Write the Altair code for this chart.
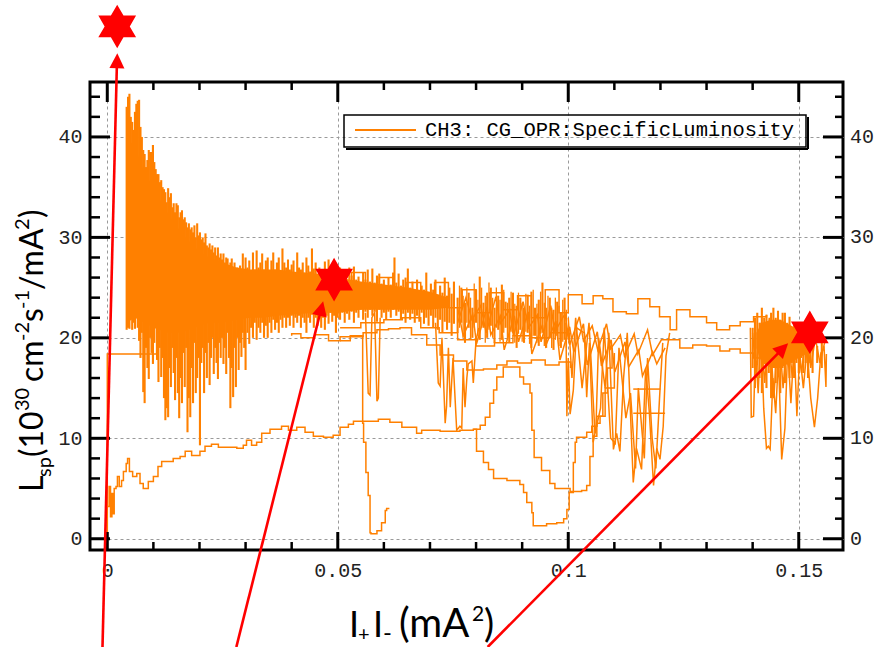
import altair as alt
import pandas as pd

# ---------------- layout constants ----------------
W, H = 753, 468
X_DOM = [-0.00375, 0.1596]
Y_DOM = [-1.12, 45.47]
ORANGE = "#ff8000"
RED = "#ff0000"

# ---------------- data ----------------
x_ticks_major = [0, 0.05, 0.1, 0.15]
x_ticks_minor = [0.01, 0.02, 0.03, 0.04, 0.06, 0.07, 0.08, 0.09, 0.11, 0.12, 0.13, 0.14]
y_ticks_major = [0, 10, 20, 30, 40]
y_ticks_minor = [2, 4, 6, 8, 12, 14, 16, 18, 22, 24, 26, 28, 32, 34, 36, 38, 42, 44]

# fill starting at the origin (low curve)
a_x = [0.0, 0.0, 0.0004, 0.0007, 0.001, 0.0013, 0.0015, 0.0019, 0.0022, 0.0026, 0.0031, 0.0035,
       0.0041, 0.0044, 0.0048, 0.0055, 0.0064, 0.0071, 0.0078, 0.0089, 0.0100, 0.0110, 0.0118,
       0.0132, 0.0143, 0.0158, 0.0169, 0.0183, 0.0201, 0.0212, 0.0226, 0.0241, 0.0259, 0.0281,
       0.0295, 0.0302, 0.0313, 0.0324, 0.0335, 0.0353, 0.0378, 0.0393, 0.0411, 0.0429, 0.0447,
       0.0469, 0.0490, 0.0505, 0.0523, 0.0534, 0.0563, 0.0588, 0.0613, 0.0639, 0.0671, 0.0682,
       0.0722, 0.0765, 0.0794, 0.0809, 0.0820, 0.0830, 0.0838, 0.0845, 0.0859, 0.0895, 0.0903,
       0.0917, 0.0921, 0.0926, 0.0942, 0.0960, 0.0971, 0.1004, 0.1029, 0.1040, 0.1047, 0.1054,
       0.1062, 0.1069, 0.1080, 0.1100]
a_y = [0.0, 3.2, 5.2, 2.2, 4.5, 2.5, 5.0, 5.2, 6.2, 5.2, 5.8, 6.7,
       7.5, 8.0, 6.7, 6.2, 6.5, 5.5, 5.0, 5.7, 6.2, 7.2, 7.7,
       7.7, 8.0, 8.2, 8.7, 8.3, 8.7, 9.2, 9.4, 9.1, 9.1, 9.0,
       9.3, 9.8, 9.3, 9.6, 10.5, 10.9, 11.2, 10.8, 11.1, 10.6, 10.2,
       10.1, 10.3, 11.1, 11.4, 11.7, 11.7, 11.9, 11.6, 11.1, 10.5, 10.8,
       10.7, 10.8, 10.9, 11.3, 12.1, 13.5, 14.8, 16.1, 17.1, 16.1, 15.4,
       14.5, 10.8, 8.1, 6.8, 5.5, 5.0, 4.7, 4.8, 5.3, 8.2, 10.2,
       11.5, 12.2, 15.0, 18.5]

# fill dipping to ~1 near 0.09
b_x = [0.0794, 0.0798, 0.0801, 0.0816, 0.0827, 0.0838, 0.0867, 0.0895, 0.0903, 0.0910, 0.0921,
       0.0924, 0.0953, 0.0975, 0.0990, 0.0997, 0.1002, 0.1011, 0.1015, 0.1018, 0.1040, 0.1051,
       0.1062, 0.1075, 0.1085, 0.1095]
b_y = [10.9, 10.9, 8.7, 7.6, 6.9, 6.0, 5.8, 5.4, 4.6, 3.6, 2.6,
       1.3, 1.5, 1.6, 2.0, 2.9, 4.6, 7.6, 9.6, 10.1, 10.6, 11.2,
       12.2, 14.5, 17.0, 19.0]

# short fill with the deep drop near 0.057
c_x = [0.0612, 0.0606, 0.0603, 0.0595, 0.0585, 0.0572, 0.0570, 0.0566, 0.0561, 0.0556, 0.0554,
       0.0527, 0.0505, 0.0480, 0.0450, 0.0420, 0.0400]
c_y = [3.0, 2.8, 1.6, 0.8, 0.5, 0.6, 4.3, 6.6, 9.6, 11.5, 20.2,
       20.1, 19.7, 20.3, 20.0, 20.4, 20.2]

# smooth lines around 20 -> 17
d_x = [0.0505, 0.0527, 0.0555, 0.0585, 0.0610, 0.0635, 0.0660, 0.0693, 0.0722, 0.0751, 0.0780,
       0.0816, 0.0845, 0.0867, 0.0890, 0.0920, 0.0950, 0.0980, 0.1005]
d_y = [19.7, 20.1, 20.5, 20.8, 20.9, 21.0, 20.3, 19.3, 18.3, 17.7, 16.8,
       16.9, 17.3, 17.7, 17.5, 17.8, 17.3, 17.6, 17.0]
e_x = [0.0505, 0.0550, 0.0600, 0.0640, 0.0680, 0.0720, 0.0760, 0.0800, 0.0840, 0.0880, 0.0920,
       0.0960, 0.1000]
e_y = [21.0, 21.5, 21.8, 22.0, 21.0, 20.5, 19.8, 19.2, 19.5, 20.2, 20.0, 20.5, 19.8]

# vertical start at zero current and flat plateau
f_x = [0.0, 0.0, 0.0107, 0.0107]
f_y = [0.3, 18.4, 18.4, 21.0]

# upper line of the middle region
m1_x = [0.0500, 0.0530, 0.0560, 0.0590, 0.0620, 0.0650, 0.0680, 0.0710, 0.0740, 0.0770, 0.0800,
        0.0830, 0.0860, 0.0890, 0.0920, 0.0950, 0.0980, 0.1000, 0.1030, 0.1054, 0.1075, 0.1097,
        0.1126, 0.1151, 0.1177, 0.1198, 0.1221, 0.1235, 0.1264, 0.1300, 0.1322, 0.1350, 0.1373,
        0.1402, 0.1430]
m1_y = [25.0, 26.5, 24.0, 26.0, 23.5, 25.5, 23.5, 25.5, 23.0, 24.8, 22.5,
        24.5, 22.8, 24.2, 22.0, 24.8, 22.5, 24.3, 23.4, 24.2, 23.9, 22.6,
        22.4, 23.9, 23.1, 22.1, 20.8, 22.8, 22.1, 21.5, 20.8, 21.2, 21.6,
        22.1, 22.3]
l_x = [0.1217, 0.1242, 0.1270, 0.1300, 0.1329, 0.1350, 0.1373, 0.1402, 0.1420]
l_y = [19.8, 19.0, 19.3, 19.2, 18.7, 18.9, 18.5, 18.0, 18.3]
h1_x = [0.1141, 0.1200]
h1_y = [14.9, 14.9]
h2_x = [0.1141, 0.1210]
h2_y = [12.5, 12.5]

# noisy lines and V-shaped dips (straight segments)
m5_x = [0.0760, 0.0778, 0.0791, 0.0810, 0.0822, 0.0843, 0.0852, 0.0873, 0.0881, 0.0902, 0.0914,
        0.0933, 0.0941, 0.0962, 0.0971, 0.0993, 0.1003, 0.1024, 0.1033, 0.1052, 0.1064, 0.1083,
        0.1092, 0.1113, 0.1122, 0.1143, 0.1151, 0.1172, 0.1183, 0.1202, 0.1217]
m5_y = [21.5, 24.0, 21.8, 23.2, 20.5, 24.1, 21.4, 22.8, 20.2, 23.6, 21.0,
        22.3, 19.6, 23.2, 20.6, 22.4, 19.3, 22.1, 19.7, 21.2, 18.8, 21.4,
        18.9, 20.3, 18.2, 20.4, 18.4, 20.8, 18.3, 19.8, 19.8]
m6_x = [0.0760, 0.0772, 0.0793, 0.0801, 0.0824, 0.0832, 0.0853, 0.0861, 0.0883, 0.0892, 0.0913,
        0.0921, 0.0944, 0.0951, 0.0973, 0.0982, 0.1003, 0.1012, 0.1033, 0.1041, 0.1063, 0.1072,
        0.1093, 0.1101, 0.1123, 0.1131, 0.1153, 0.1161, 0.1183, 0.1192, 0.1210]
m6_y = [23.0, 20.2, 22.3, 19.4, 23.1, 20.3, 22.2, 18.8, 22.2, 19.6, 22.6,
        18.4, 21.3, 19.2, 21.7, 17.8, 21.1, 18.6, 21.4, 17.3, 20.6, 17.2,
        19.8, 16.6, 19.6, 17.1, 18.8, 16.2, 18.6, 17.4, 19.0]
v1_x = [0.0995, 0.0997, 0.1000, 0.1004, 0.1011, 0.1018, 0.1035, 0.1040, 0.1046, 0.1054, 0.1060,
        0.1066, 0.1080, 0.1088, 0.1098, 0.1105, 0.1112, 0.1120, 0.1128, 0.1141, 0.1148, 0.1159,
        0.1168, 0.1176, 0.1185, 0.1192, 0.1199, 0.1206, 0.1212, 0.1220]
v1_y = [21.5, 12.2, 18.0, 12.4, 14.8, 21.0, 20.5, 14.1, 19.5, 9.6, 11.0,
        20.0, 15.0, 20.5, 8.9, 10.5, 8.7, 16.0, 20.5, 5.6, 9.0, 6.9,
        17.0, 12.5, 5.3, 9.0, 7.9, 11.2, 18.2, 20.5]
v2_x = [0.1000, 0.1008, 0.1016, 0.1030, 0.1045, 0.1058, 0.1070, 0.1078, 0.1092, 0.1102, 0.1110,
        0.1125, 0.1135, 0.1146, 0.1152, 0.1165, 0.1172, 0.1182, 0.1190, 0.1198, 0.1205]
v2_y = [22.0, 16.0, 22.0, 15.0, 21.5, 10.5, 13.0, 21.0, 10.0, 9.5, 19.0,
        12.0, 14.5, 7.0, 15.0, 8.0, 18.0, 10.0, 7.0, 14.0, 19.5]
v3_x = [0.0560, 0.0566, 0.0570, 0.0574, 0.0580, 0.0585, 0.0588, 0.0592]
v3_y = [22.5, 14.5, 14.3, 22.0, 22.5, 13.7, 14.0, 22.0]
v4_x = [0.0712, 0.0718, 0.0722, 0.0726, 0.0733, 0.0736, 0.0740, 0.0744, 0.0750, 0.0758, 0.0765,
        0.0769, 0.0772, 0.0776, 0.0780, 0.0783, 0.0791, 0.0794, 0.0800, 0.0806]
v4_y = [21.5, 15.5, 15.2, 20.0, 11.5, 13.2, 19.0, 13.1, 18.0, 10.8, 11.2,
        11.0, 17.0, 13.1, 16.0, 17.4, 17.7, 15.5, 19.8, 21.0]
r1_x = [0.1395, 0.1397, 0.1402, 0.1406, 0.1412, 0.1418, 0.1424, 0.1430, 0.1434, 0.1438, 0.1444,
        0.1450, 0.1456, 0.1463, 0.1470, 0.1476, 0.1483, 0.1490, 0.1496, 0.1502, 0.1510, 0.1518,
        0.1526, 0.1534, 0.1541, 0.1548, 0.1555, 0.1559, 0.1560]
r1_y = [21.0, 12.1, 12.2, 19.0, 14.5, 21.0, 13.0, 9.0, 9.2, 8.9, 16.0,
        12.5, 18.0, 7.9, 11.0, 19.0, 13.5, 19.5, 12.2, 18.5, 15.0, 19.0,
        14.0, 11.1, 14.0, 18.5, 19.0, 15.1, 18.4]
r2_x = [0.1400, 0.1408, 0.1416, 0.1426, 0.1436, 0.1446, 0.1456, 0.1466, 0.1476, 0.1486, 0.1496,
        0.1506, 0.1516, 0.1526, 0.1536, 0.1546, 0.1556]
r2_y = [20.5, 16.0, 21.5, 15.5, 22.0, 14.0, 21.5, 15.0, 21.0, 16.0, 20.0,
        16.5, 20.5, 17.0, 20.0, 17.5, 19.5]

# solid cores of the dense band and of the cluster at the right
core_x = [0.0042, 0.0060, 0.0080, 0.0100, 0.0130, 0.0160, 0.0190, 0.0220, 0.0250, 0.0280,
          0.0310, 0.0340, 0.0370, 0.0400, 0.0450, 0.0500, 0.0550, 0.0600, 0.0650, 0.0700, 0.0740]
core_lo = [21.5, 22.0, 21.5, 21.0, 20.5, 20.5, 21.0, 21.5, 21.5, 21.8,
           22.0, 22.0, 22.2, 22.3, 22.5, 22.5, 22.8, 22.8, 22.8, 22.8, 23.0]
core_hi = [40.0, 39.0, 36.5, 35.0, 32.5, 30.5, 29.0, 28.0, 27.5, 27.0,
           26.8, 26.8, 26.8, 26.6, 26.4, 26.0, 25.6, 25.3, 25.0, 24.6, 24.0]
rcore_x = [0.1408, 0.1420, 0.1440, 0.1460, 0.1480, 0.1500, 0.1520, 0.1530]
rcore_lo = [19.0, 17.5, 17.0, 17.0, 17.5, 18.0, 18.5, 19.0]
rcore_hi = [20.5, 21.5, 21.8, 21.8, 21.3, 20.8, 20.3, 20.0]

# vertical excursions of the noisy fills: (current, low end, high end)
strokes = [
    (0.0042, 20.8, 43.0), (0.0045, 21.0, 44.0), (0.0048, 20.9, 44.3), (0.0051, 22.5, 42.0),
    (0.0054, 20.8, 41.5), (0.0057, 21.5, 40.7), (0.0060, 20.9, 42.5), (0.0063, 23.0, 43.3),
    (0.0066, 21.0, 43.6), (0.0069, 19.7, 43.7), (0.0072, 18.0, 41.0), (0.0075, 20.5, 40.0),
    (0.0078, 14.6, 38.7), (0.0081, 13.5, 38.3), (0.0084, 19.0, 37.0), (0.0087, 17.0, 37.7),
    (0.0090, 15.9, 38.7), (0.0093, 20.0, 38.5), (0.0096, 18.5, 38.5), (0.0099, 17.4, 39.2),
    (0.0102, 19.5, 37.5), (0.0105, 21.0, 36.8), (0.0108, 17.8, 36.3), (0.0111, 15.6, 36.3),
    (0.0114, 19.0, 35.5), (0.0117, 16.1, 35.7), (0.0120, 18.0, 35.0), (0.0123, 14.0, 34.8),
    (0.0126, 11.8, 34.5), (0.0129, 13.0, 33.5), (0.0132, 12.1, 34.9), (0.0135, 17.0, 34.0),
    (0.0138, 15.1, 34.4), (0.0141, 19.0, 33.0), (0.0144, 16.5, 33.4), (0.0147, 13.8, 32.5),
    (0.0150, 18.0, 33.4), (0.0153, 14.5, 33.2), (0.0156, 12.0, 32.0), (0.0159, 16.0, 32.5),
    (0.0162, 13.5, 32.7), (0.0165, 18.5, 31.8), (0.0168, 15.1, 32.0), (0.0171, 19.0, 31.5),
    (0.0174, 10.6, 31.0), (0.0177, 14.0, 31.4), (0.0180, 12.1, 30.8), (0.0183, 17.0, 31.0),
    (0.0186, 13.5, 30.5), (0.0189, 19.5, 31.2), (0.0192, 14.5, 30.0), (0.0195, 16.0, 31.4),
    (0.0198, 18.0, 30.2), (0.0201, 9.3, 30.5), (0.0204, 17.5, 29.8), (0.0207, 19.0, 30.0),
    (0.0210, 14.5, 29.5), (0.0213, 18.5, 30.4), (0.0216, 16.0, 29.2), (0.0219, 19.5, 29.0),
    (0.0222, 15.3, 29.4), (0.0225, 18.0, 28.8), (0.0228, 20.0, 29.2), (0.0231, 16.4, 28.5),
    (0.0234, 19.0, 29.0), (0.0237, 17.5, 28.2), (0.0240, 15.9, 29.0), (0.0243, 19.5, 28.0),
    (0.0246, 18.0, 28.4), (0.0249, 20.0, 27.8), (0.0252, 17.4, 28.4), (0.0255, 19.0, 27.5),
    (0.0258, 16.4, 28.0), (0.0261, 20.5, 27.9), (0.0264, 18.0, 27.2), (0.0267, 13.0, 27.5),
    (0.0270, 17.0, 27.9), (0.0273, 14.1, 27.0), (0.0276, 19.0, 27.5), (0.0279, 15.1, 26.8),
    (0.0282, 20.0, 27.0), (0.0285, 16.8, 26.6), (0.0288, 19.5, 27.2), (0.0291, 18.1, 26.5),
    (0.0294, 20.5, 28.4), (0.0297, 19.0, 26.8), (0.0300, 16.8, 28.0), (0.0304, 20.5, 27.0),
    (0.0308, 19.4, 27.7), (0.0312, 21.0, 26.5), (0.0316, 20.0, 28.5), (0.0320, 21.5, 26.8),
    (0.0324, 19.8, 28.7), (0.0328, 21.0, 27.0), (0.0332, 20.5, 27.5), (0.0336, 21.5, 28.4),
    (0.0340, 20.0, 26.8), (0.0344, 21.2, 27.7), (0.0348, 20.0, 28.0), (0.0352, 21.5, 26.5),
    (0.0356, 20.5, 27.7), (0.0360, 21.8, 28.5), (0.0364, 20.8, 26.8), (0.0368, 21.5, 27.5),
    (0.0372, 20.5, 28.0), (0.0376, 21.8, 26.6), (0.0380, 21.0, 28.9), (0.0384, 22.0, 27.5),
    (0.0388, 21.0, 27.0), (0.0392, 22.0, 27.8), (0.0396, 21.2, 26.8), (0.0400, 22.2, 27.3),
    (0.0404, 21.0, 27.7), (0.0408, 22.0, 26.5), (0.0412, 21.5, 28.5), (0.0416, 22.2, 27.0),
    (0.0420, 21.0, 26.8), (0.0424, 22.0, 27.5), (0.0428, 21.5, 26.5), (0.0432, 20.5, 28.0),
    (0.0436, 22.0, 27.2), (0.0440, 21.5, 26.6), (0.0444, 22.3, 28.9), (0.0448, 21.0, 26.9),
    (0.0452, 22.0, 27.5), (0.0456, 21.2, 26.4), (0.0460, 22.4, 27.0), (0.0464, 21.0, 26.8),
    (0.0468, 22.0, 26.2), (0.0472, 20.8, 27.6), (0.0476, 22.2, 26.5), (0.0480, 21.4, 27.8),
    (0.0484, 22.5, 26.4), (0.0488, 21.6, 26.8), (0.0492, 22.2, 26.0), (0.0496, 20.5, 27.3),
    (0.0500, 22.0, 26.5), (0.0505, 21.8, 27.0), (0.0510, 22.5, 26.0), (0.0515, 21.5, 26.5),
    (0.0520, 22.4, 25.8), (0.0525, 21.8, 27.0), (0.0530, 22.6, 26.2), (0.0535, 21.5, 27.1),
    (0.0540, 22.5, 25.8), (0.0545, 22.0, 26.1), (0.0550, 22.8, 25.5), (0.0555, 21.8, 26.5),
    (0.0560, 22.6, 25.8), (0.0565, 22.0, 26.8), (0.0570, 22.8, 25.6), (0.0575, 22.2, 26.9),
    (0.0580, 22.6, 25.5), (0.0585, 21.6, 26.2), (0.0590, 22.8, 26.4), (0.0595, 22.0, 25.4),
    (0.0600, 22.5, 25.8), (0.0605, 21.8, 25.2), (0.0610, 22.6, 26.0), (0.0615, 22.0, 25.3),
    (0.0620, 22.8, 26.5), (0.0623, 23.0, 28.0), (0.0627, 22.2, 25.5), (0.0632, 22.6, 26.4),
    (0.0637, 21.8, 25.2), (0.0642, 22.4, 25.8), (0.0647, 21.5, 26.0), (0.0652, 22.5, 26.9),
    (0.0657, 21.8, 25.0), (0.0662, 22.4, 25.6), (0.0667, 21.5, 24.8), (0.0672, 22.2, 25.8),
    (0.0677, 21.6, 24.6), (0.0682, 22.5, 25.2), (0.0687, 21.4, 24.8), (0.0692, 22.0, 26.5),
    (0.0697, 21.2, 24.5), (0.0702, 22.2, 25.4), (0.0707, 21.0, 24.8), (0.0712, 22.0, 25.8),
    (0.0717, 20.8, 24.3), (0.0722, 21.8, 25.2), (0.0727, 20.5, 24.5), (0.0732, 21.6, 26.0),
    (0.0737, 20.8, 24.2), (0.0742, 21.5, 25.0), (0.0747, 20.2, 24.4), (0.0752, 21.4, 25.6),
    (0.0760, 20.5, 24.0), (0.0768, 21.5, 25.0), (0.0776, 19.5, 23.5), (0.0784, 21.0, 24.5),
    (0.0792, 20.0, 23.0), (0.0800, 21.5, 24.8), (0.0808, 19.8, 26.1), (0.0816, 21.0, 23.5),
    (0.0824, 20.0, 24.5), (0.0832, 21.2, 25.0), (0.0840, 19.5, 23.0), (0.0848, 20.8, 24.2),
    (0.0856, 19.8, 25.3), (0.0864, 21.0, 23.6), (0.0872, 19.5, 24.0), (0.0880, 20.5, 24.5),
    (0.0888, 19.0, 23.2), (0.0896, 20.8, 24.0), (0.0904, 19.5, 23.0), (0.0912, 20.5, 24.3),
    (0.0920, 19.0, 24.6), (0.0928, 20.2, 23.0), (0.0936, 19.2, 23.8), (0.0944, 20.5, 25.5),
    (0.0952, 19.0, 23.0), (0.0960, 20.0, 24.0), (0.0968, 18.8, 22.8), (0.0976, 20.2, 23.6),
    (0.0984, 19.0, 22.5), (0.0992, 19.8, 24.0),
    (0.1400, 17.0, 21.0), (0.1405, 15.0, 22.0), (0.1410, 18.0, 22.5), (0.1415, 16.0, 21.5),
    (0.1420, 14.5, 23.0), (0.1425, 17.5, 22.0), (0.1430, 15.0, 22.3), (0.1435, 16.5, 21.5),
    (0.1440, 14.0, 22.5), (0.1445, 17.0, 23.0), (0.1450, 15.5, 22.0), (0.1455, 16.5, 22.7),
    (0.1460, 14.5, 21.8), (0.1465, 17.0, 22.5), (0.1470, 15.5, 22.5), (0.1475, 17.5, 21.5),
    (0.1480, 16.0, 22.1), (0.1485, 17.5, 21.0), (0.1490, 16.0, 21.5), (0.1495, 17.5, 20.5),
    (0.1500, 16.5, 21.0), (0.1505, 18.0, 20.5), (0.1510, 16.5, 20.8), (0.1515, 17.5, 20.0),
    (0.1520, 16.0, 20.5), (0.1525, 17.5, 19.8), (0.1530, 16.5, 19.5), (0.1540, 17.5, 19.2),
    (0.1550, 17.0, 19.5),
]
# thinner excursions of the looser tangle between 0.076 and 0.1
thin_strokes = [
    (0.0764, 21.0, 25.2), (0.0772, 20.0, 24.2), (0.0780, 21.5, 25.0), (0.0788, 19.8, 24.0),
    (0.0796, 21.0, 25.4), (0.0804, 20.2, 23.8), (0.0812, 21.2, 25.0), (0.0820, 19.5, 24.2),
    (0.0828, 20.8, 25.5), (0.0836, 20.0, 24.0), (0.0844, 21.0, 25.0), (0.0852, 19.6, 23.8),
    (0.0860, 20.5, 24.8), (0.0868, 19.8, 23.5), (0.0876, 20.6, 24.6), (0.0884, 19.5, 23.4),
    (0.0892, 20.4, 24.5), (0.0900, 19.6, 23.5), (0.0908, 20.6, 24.4), (0.0916, 19.4, 23.2),
    (0.0924, 20.2, 24.8), (0.0932, 19.5, 23.4), (0.0940, 20.4, 24.6), (0.0948, 19.2, 23.5),
    (0.0956, 20.0, 24.2), (0.0964, 19.0, 23.0), (0.0972, 19.8, 24.0), (0.0980, 19.2, 23.2),
    (0.0988, 19.6, 23.8), (0.0996, 19.0, 22.8),
]

# annotation stars and arrows
star_x = [0.00215, 0.0492, 0.1524]
star_y = [51.0, 25.8, 20.55]
arrow_id = [1, 1, 2, 2, 3, 3]
arrow_x = [-0.00104, 0.00208, 0.02799, 0.04632, 0.08252, 0.1462]
arrow_y = [-10.78, 47.13, -10.78, 22.72, -10.78, 18.77]
head_x = [0.00217, 0.04683, 0.1477]
head_y = [48.33, 23.65, 19.47]
head_angle = [1.4, 14.1, 44.7]

LEGEND_TEXT = "CH3: CG_OPR:SpecificLuminosity"

# ---------------- build tables ----------------
def tr(name, xs, ys):
    return pd.DataFrame({"trace": name, "x": xs, "y": ys, "i": list(range(len(xs)))})

step_df = pd.concat([tr("A", a_x, a_y), tr("B", b_x, b_y), tr("C", c_x, c_y), tr("D", d_x, d_y),
                     tr("E", e_x, e_y), tr("F", f_x, f_y), tr("M1", m1_x, m1_y), tr("L", l_x, l_y),
                     tr("H1", h1_x, h1_y), tr("H2", h2_x, h2_y)])
lin_df = pd.concat([tr("M5", m5_x, m5_y), tr("M6", m6_x, m6_y), tr("V1", v1_x, v1_y),
                    tr("V2", v2_x, v2_y), tr("V3", v3_x, v3_y), tr("V4", v4_x, v4_y),
                    tr("R1", r1_x, r1_y), tr("R2", r2_x, r2_y)])
core_df = pd.DataFrame({"x": core_x, "lo": core_lo, "hi": core_hi})
rcore_df = pd.DataFrame({"x": rcore_x, "lo": rcore_lo, "hi": rcore_hi})
stroke_df = pd.DataFrame(strokes, columns=["x", "lo", "hi"])
thin_df = pd.DataFrame(thin_strokes, columns=["x", "lo", "hi"])
star_df = pd.DataFrame({"x": star_x, "y": star_y})
arrow_df = pd.DataFrame({"a": arrow_id, "x": arrow_x, "y": arrow_y})
head_df = pd.DataFrame({"x": head_x, "y": head_y, "ang": head_angle})
one = pd.DataFrame({"k": [0]})

xsc = alt.Scale(domain=X_DOM, nice=False, zero=False)
ysc = alt.Scale(domain=Y_DOM, nice=False, zero=False)

x_axis = alt.Axis(values=x_ticks_major, grid=True, gridDash=[3, 3], gridColor="#9a9a9a", gridWidth=1,
                  ticks=False, tickSize=0, domain=False, labelFont="Liberation Mono", labelFontSize=20,
                  labelColor="#222222", labelPadding=10, labelFlush=False, labelOverlap=False,
                  labelExpr="'' + datum.value", title=None)
y_axis = alt.Axis(values=y_ticks_major, grid=True, gridDash=[3, 3], gridColor="#9a9a9a", gridWidth=1,
                  ticks=False, tickSize=0, domain=False, labelFont="Liberation Mono", labelFontSize=20,
                  labelColor="#222222", labelPadding=8, labelFlush=False, labelOverlap=False,
                  labelExpr="'' + datum.value", title=None)

def X(f="x"):
    return alt.X(f"{f}:Q", scale=xsc, axis=x_axis)

def Y(f="y"):
    return alt.Y(f"{f}:Q", scale=ysc, axis=y_axis)

core = alt.Chart(core_df).mark_area(color=ORANGE, opacity=1).encode(x=X(), y=Y("lo"), y2="hi:Q")
rcore = alt.Chart(rcore_df).mark_area(color=ORANGE, opacity=1).encode(x=X(), y=Y("lo"), y2="hi:Q")
strk = alt.Chart(stroke_df).mark_rule(color=ORANGE, strokeWidth=2.1).encode(x=X(), y=Y("lo"), y2="hi:Q")
thin = alt.Chart(thin_df).mark_rule(color=ORANGE, strokeWidth=1.3).encode(x=X(), y=Y("lo"), y2="hi:Q")
steps = alt.Chart(step_df).mark_line(color=ORANGE, strokeWidth=1.5, interpolate="step-after").encode(
    x=X(), y=Y(), detail="trace:N", order="i:Q")
lins = alt.Chart(lin_df).mark_line(color=ORANGE, strokeWidth=1.5).encode(
    x=X(), y=Y(), detail="trace:N", order="i:Q")

# axis tick marks (inward, on all four sides)
def tick_rules(vals, orient, length, width):
    d = pd.DataFrame({"v": vals})
    c = alt.Chart(d).mark_rule(color="black", strokeWidth=width)
    if orient == "left":
        return c.encode(y=Y("v"), x=alt.value(0), x2=alt.value(length))
    if orient == "right":
        return c.encode(y=Y("v"), x=alt.value(W - length), x2=alt.value(W))
    if orient == "bottom":
        return c.encode(x=X("v"), y=alt.value(H), y2=alt.value(H - length))
    return c.encode(x=X("v"), y=alt.value(0), y2=alt.value(length))

ticks = [tick_rules(y_ticks_major, "left", 20, 3), tick_rules(y_ticks_minor, "left", 10, 2.5),
         tick_rules(y_ticks_major, "right", 20, 3), tick_rules(y_ticks_minor, "right", 8, 2.5),
         tick_rules(x_ticks_major, "bottom", 18, 3), tick_rules(x_ticks_minor, "bottom", 8, 2.5),
         tick_rules(x_ticks_major, "top", 20, 3), tick_rules(x_ticks_minor, "top", 8, 2.5)]

right_labels = alt.Chart(pd.DataFrame({"v": y_ticks_major})).mark_text(
    font="Liberation Mono", fontSize=20, color="#222222", align="left", baseline="middle").encode(
    y=Y("v"), x=alt.value(W + 7), text="v:Q")

# legend box
leg_box = alt.Chart(one).mark_rect(fill=None, stroke="black", strokeWidth=1.5).encode(
    x=alt.value(254), x2=alt.value(716), y=alt.value(33), y2=alt.value(65))
leg_sh1 = alt.Chart(one).mark_rule(color="black", strokeWidth=2).encode(
    x=alt.value(718), y=alt.value(35), y2=alt.value(67))
leg_sh2 = alt.Chart(one).mark_rule(color="black", strokeWidth=2).encode(
    x=alt.value(256), x2=alt.value(718), y=alt.value(67))
leg_line = alt.Chart(one).mark_rule(color=ORANGE, strokeWidth=2).encode(
    x=alt.value(265), x2=alt.value(326), y=alt.value(48))
leg_text = alt.Chart(one).mark_text(text=LEGEND_TEXT, font="Liberation Mono", fontSize=20.5,
                                    color="black", align="left", baseline="middle").encode(
    x=alt.value(335), y=alt.value(48))

# annotations
HEX = "M0,-1L0.2887,-0.5L0.866,-0.5L0.577,0L0.866,0.5L0.2887,0.5L0,1L-0.2887,0.5L-0.866,0.5L-0.577,0L-0.866,-0.5L-0.2887,-0.5Z"
HEAD = "M0,0L-0.5,1L0.5,1Z"
arrows = alt.Chart(arrow_df).mark_line(color=RED, strokeWidth=2.6).encode(
    x=X(), y=Y(), detail="a:N")
heads = alt.Chart(head_df).mark_point(shape=HEAD, size=900, filled=True, color=RED, opacity=1).encode(
    x=X(), y=Y(), angle=alt.Angle("ang:Q", scale=None))
stars = alt.Chart(star_df).mark_point(shape=HEX, size=1900, filled=True, color=RED, opacity=1).encode(
    x=X(), y=Y())

# axis titles assembled from pieces (sub/superscripts)
def piece(text, x, y, size, angle=0):
    return alt.Chart(one).mark_text(text=text, font="Lato", fontSize=size, angle=angle, align="left",
                                    baseline="alphabetic", color="black").encode(
        x=alt.value(x), y=alt.value(y))

xt = [piece("I", 259, 555, 36), piece("+", 268, 559, 20), piece("I", 283, 555, 36),
      piece("-", 293, 559, 24), piece("(mA", 309, 555, 40), piece("2", 382, 539, 21),
      piece(")", 394, 555, 38)]
yt = [piece("L", -47, 410, 32, 270), piece("sp", -39, 395, 20, 270), piece("(10", -47, 375, 32, 270),
      piece("30", -61, 329, 20, 270), piece("cm", -47, 300, 32, 270), piece("-2", -61, 259, 20, 270),
      piece("s", -47, 240, 32, 270), piece("-1", -61, 227, 20, 270), piece("/mA", -47, 208, 32, 270),
      piece("2", -61, 148, 20, 270), piece(")", -47, 136, 32, 270)]

chart = alt.layer(core, rcore, strk, thin, steps, lins, *ticks, right_labels,
                  leg_box, leg_sh1, leg_sh2, leg_line, leg_text,
                  arrows, heads, stars, *xt, *yt).properties(
    width=W, height=H,
    padding={"left": 90, "top": 82, "right": 32, "bottom": 97},
    autosize=alt.AutoSizeParams(type="none"),
).configure_view(stroke="black", strokeWidth=3)

chart.save("out.html", embed_options={"renderer": "svg", "actions": False})
